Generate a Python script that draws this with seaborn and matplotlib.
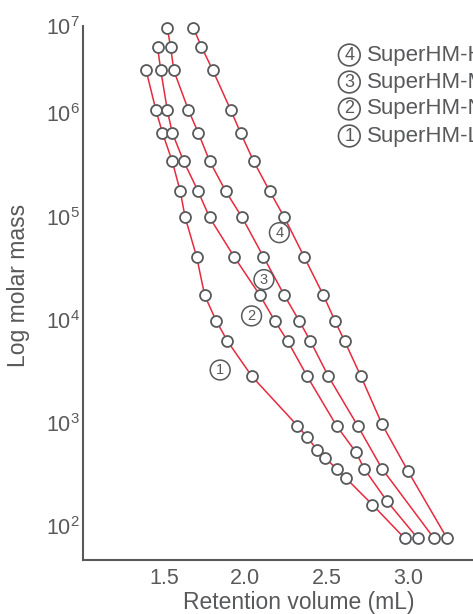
import numpy as np
import pandas as pd
import matplotlib
matplotlib.use('Agg')
import matplotlib.pyplot as plt
import seaborn as sns

# retention volume (mL) and molar mass for each column
vol_1 = [1.39, 1.45, 1.49, 1.55, 1.60, 1.63, 1.70, 1.75, 1.82, 1.89, 2.04,
         2.32, 2.38, 2.44, 2.49, 2.56, 2.62, 2.78, 2.98]
mass_1 = [3.1e6, 1.09e6, 6.5e5, 3.45e5, 1.75e5, 9.8e4, 4.1e4, 1.72e4, 9.8e3,
          6.2e3, 2.83e3, 9.4e2, 7.3e2, 5.5e2, 4.6e2, 3.6e2, 2.9e2, 1.62e2, 76]

vol_2 = [1.46, 1.48, 1.52, 1.55, 1.62, 1.71, 1.78, 1.93, 2.09, 2.18, 2.26,
         2.38, 2.56, 2.68, 2.73, 2.87, 3.06]
mass_2 = [5.8e6, 3.1e6, 1.09e6, 6.5e5, 3.45e5, 1.75e5, 9.8e4, 4.1e4, 1.72e4,
          9.8e3, 6.2e3, 2.83e3, 9.4e2, 5.2e2, 3.6e2, 1.75e2, 76]

vol_3 = [1.52, 1.54, 1.56, 1.65, 1.71, 1.78, 1.88, 1.98, 2.11, 2.24, 2.33,
         2.40, 2.51, 2.69, 2.84, 3.16]
mass_3 = [9.5e6, 5.8e6, 3.1e6, 1.09e6, 6.5e5, 3.45e5, 1.75e5, 9.8e4, 4.1e4,
          1.72e4, 9.8e3, 6.2e3, 2.83e3, 9.4e2, 3.6e2, 76]

vol_4 = [1.68, 1.73, 1.80, 1.91, 1.97, 2.05, 2.15, 2.24, 2.36, 2.48, 2.55,
         2.61, 2.71, 2.84, 3.00, 3.24]
mass_4 = [9.5e6, 5.8e6, 3.1e6, 1.09e6, 6.5e5, 3.45e5, 1.75e5, 9.8e4, 4.1e4,
          1.72e4, 9.8e3, 6.2e3, 2.83e3, 9.7e2, 3.4e2, 76]

column_ids = ['1', '2', '3', '4']
column_names = ['SuperHM-L', 'SuperHM-N', 'SuperHM-M', 'SuperHM-H']
# where the circled numbers sit next to the curves (volume, mass)
label_vol = [1.845, 2.038, 2.114, 2.209]
label_mass = [3.26e3, 1.09e4, 2.45e4, 6.98e4]

ytick_vals = [1e2, 1e3, 1e4, 1e5, 1e6, 1e7]
ytick_labels = ['$10^{2}$', '$10^{3}$', '$10^{4}$', '$10^{5}$', '$10^{6}$', '$10^{7}$']
xtick_vals = [1.5, 2.0, 2.5, 3.0]

df = pd.concat([
    pd.DataFrame({'volume': v, 'mass': m, 'column': c})
    for v, m, c in zip([vol_1, vol_2, vol_3, vol_4],
                       [mass_1, mass_2, mass_3, mass_4], column_ids)
], ignore_index=True)

sns.set_style('white')
plt.rcParams['font.family'] = ['Liberation Sans', 'DejaVu Sans']
plt.rcParams['mathtext.default'] = 'regular'

gray = '#58595b'
red = '#e62a3e'

fig = plt.figure(figsize=(4.73, 6.14), dpi=100)
ax = fig.add_axes([0.1748, 0.0879, 0.914, 0.8697])

# top decade of the original axis is drawn a bit compressed
k = 0.846


def fwd(y):
    z = np.log10(np.clip(np.asarray(y, dtype=float), 1e-300, None))
    return np.where(z <= 6, z, 6 + (z - 6) * k)


def inv(z):
    z = np.asarray(z, dtype=float)
    return np.where(z <= 6, 10.0 ** z, 10.0 ** (6 + (z - 6) / k))


ax.set_yscale('function', functions=(fwd, inv))

sns.lineplot(data=df, x='volume', y='mass', hue='column', units='column',
             estimator=None, sort=False, palette=[red] * 4, linewidth=1.1,
             legend=False, ax=ax, zorder=2)
sns.scatterplot(data=df, x='volume', y='mass', s=62, color='white',
                edgecolor=gray, linewidth=1.3, legend=False, ax=ax,
                zorder=3, clip_on=False)

for cid, lx, ly in zip(column_ids, label_vol, label_mass):
    ax.text(lx, ly, cid, fontsize=10.5, color=gray, ha='center', va='center',
            bbox=dict(boxstyle='circle,pad=0.2', fc='white', ec=gray, lw=1.1))

# legend-like list at the upper right (cut by the figure edge, as in the source)
rows_y = [0.9104, 0.8664, 0.8225, 0.7785]
for cid, name, ry in zip(column_ids[::-1], column_names[::-1], rows_y):
    fig.text(0.7385, ry, cid, fontsize=13, color=gray, ha='center', va='center',
             bbox=dict(boxstyle='circle,pad=0.13', fc='white', ec=gray, lw=1.2))
    fig.text(0.775, ry, name, fontsize=16, color=gray, ha='left', va='center')

ax.set_xlim(1.0, 3.657)
ax.set_ylim(47, 1e7)
ax.set_yticks(ytick_vals)
ax.set_yticklabels(ytick_labels)
ax.set_xticks(xtick_vals)
ax.set_xticklabels([f'{v:.1f}' for v in xtick_vals])
ax.minorticks_off()

for side in ['top', 'right']:
    ax.spines[side].set_visible(False)
for side in ['left', 'bottom']:
    ax.spines[side].set_color(gray)
    ax.spines[side].set_linewidth(1.5)

ax.tick_params(axis='both', direction='in', length=8, width=1.3, color=gray,
               labelcolor=gray, labelsize=15.5)
ax.tick_params(axis='y', pad=2)
ax.tick_params(axis='x', pad=6)

ax.set_xlabel('Retention volume (mL)', fontsize=16.5, color=gray)
ax.set_ylabel('Log molar mass', fontsize=16.5, color=gray)
ax.xaxis.set_label_coords(0.5, -0.058)
ax.yaxis.set_label_coords(-0.122, 0.514)

fig.savefig('out.png', dpi=100)
